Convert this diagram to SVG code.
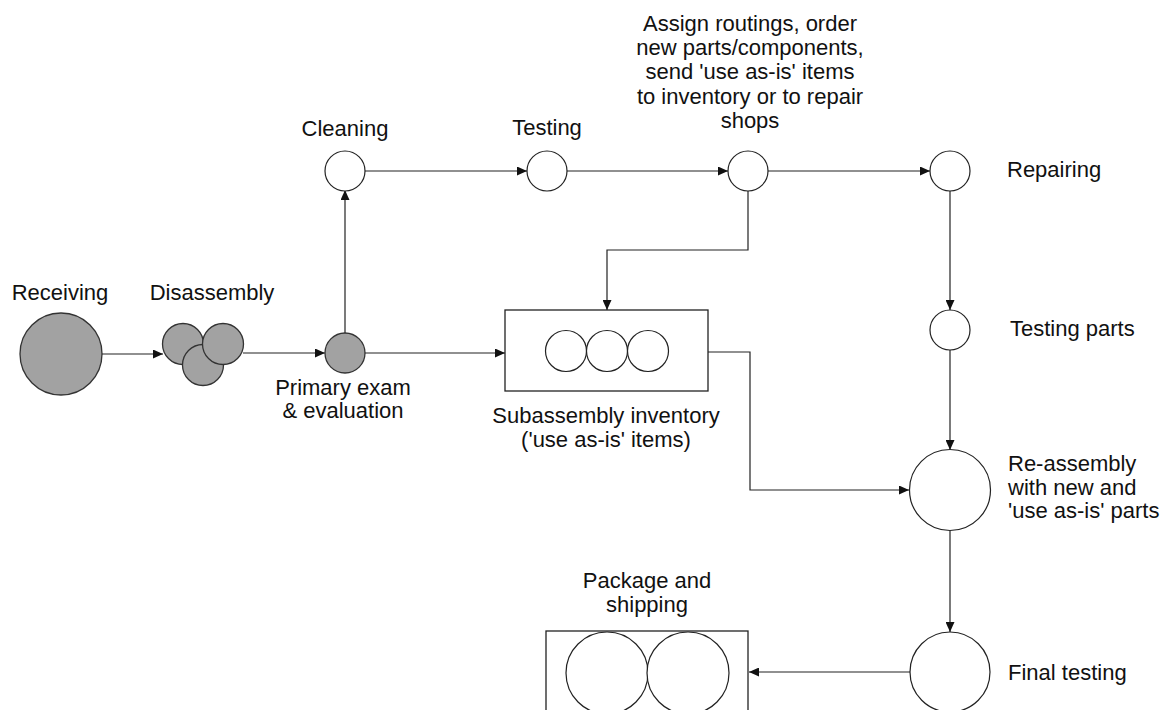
<svg xmlns="http://www.w3.org/2000/svg" width="1165" height="710" viewBox="0 0 1165 710">
<style>
  text { font-family: "Liberation Sans", Arial, sans-serif; font-size: 22px; fill: #111; }
  .c { text-anchor: middle; }
  .open { fill: #fff; stroke: #222; stroke-width: 1.2; }
  .shaded { fill: #a2a2a2; stroke: #333; stroke-width: 1.3; }
  .box { fill: #fff; stroke: #222; stroke-width: 1.3; }
  .conn { fill: none; stroke: #222; stroke-width: 1.2; }
</style>
<defs>
  <marker id="arr" markerUnits="userSpaceOnUse" markerWidth="11" markerHeight="9" refX="10" refY="4.5" orient="auto">
    <path d="M0,0 L10,4.5 L0,9 z" fill="#111"/>
  </marker>
</defs>
<rect width="1165" height="710" fill="#fff"/>

<g id="connectors">
  <path class="conn" d="M102,354 L163,354" marker-end="url(#arr)"/>
  <path class="conn" d="M243,353 L325,353" marker-end="url(#arr)"/>
  <path class="conn" d="M345,333 L345,190" marker-end="url(#arr)"/>
  <path class="conn" d="M365,171 L527,171" marker-end="url(#arr)"/>
  <path class="conn" d="M567,171 L728,171" marker-end="url(#arr)"/>
  <path class="conn" d="M768,171 L930,171" marker-end="url(#arr)"/>
  <path class="conn" d="M748,190 L748,250 L607,250 L607,310" marker-end="url(#arr)"/>
  <path class="conn" d="M365,353 L505,353" marker-end="url(#arr)"/>
  <path class="conn" d="M708,352 L750,352 L750,490 L909,490" marker-end="url(#arr)"/>
  <path class="conn" d="M950,190 L950,310" marker-end="url(#arr)"/>
  <path class="conn" d="M950,350 L950,450" marker-end="url(#arr)"/>
  <path class="conn" d="M950,531 L950,632" marker-end="url(#arr)"/>
  <path class="conn" d="M910,672 L749,672" marker-end="url(#arr)"/>
</g>

<g id="receiving">
  <circle class="shaded" cx="61" cy="354" r="41"/>
  <text class="c" x="60" y="300">Receiving</text>
</g>

<g id="disassembly">
  <circle class="shaded" cx="183" cy="344" r="20.5"/>
  <circle class="shaded" cx="203" cy="365" r="20.5"/>
  <circle class="shaded" cx="223" cy="344" r="20.5"/>
  <text class="c" x="212" y="300">Disassembly</text>
</g>

<g id="primary-exam">
  <circle class="shaded" cx="345" cy="353" r="20"/>
  <text class="c" x="343" y="395">Primary exam</text>
  <text class="c" x="343" y="418">&amp; evaluation</text>
</g>

<g id="cleaning">
  <circle class="open" cx="345" cy="171" r="20"/>
  <text class="c" x="345" y="136">Cleaning</text>
</g>

<g id="testing">
  <circle class="open" cx="547" cy="171" r="20"/>
  <text class="c" x="547" y="135">Testing</text>
</g>

<g id="assign-routings">
  <circle class="open" cx="748" cy="171" r="20"/>
  <text class="c" x="750" y="31">Assign routings, order</text>
  <text class="c" x="750" y="55">new parts/components,</text>
  <text class="c" x="750" y="79">send 'use as-is' items</text>
  <text class="c" x="750" y="104">to inventory or to repair</text>
  <text class="c" x="750" y="128">shops</text>
</g>

<g id="repairing">
  <circle class="open" cx="950" cy="171" r="20"/>
  <text x="1007" y="177">Repairing</text>
</g>

<g id="testing-parts">
  <circle class="open" cx="950" cy="330" r="20"/>
  <text x="1010" y="336">Testing parts</text>
</g>

<g id="subassembly-inventory">
  <rect class="box" x="505" y="310" width="203" height="81"/>
  <circle class="open" cx="566" cy="351" r="20.5"/>
  <circle class="open" cx="607" cy="351" r="20.5"/>
  <circle class="open" cx="648" cy="351" r="20.5"/>
  <text class="c" x="606" y="423">Subassembly inventory</text>
  <text class="c" x="606" y="447">('use as-is' items)</text>
</g>

<g id="re-assembly">
  <circle class="open" cx="950" cy="490" r="40.5"/>
  <text x="1008" y="471">Re-assembly</text>
  <text x="1008" y="495">with new and</text>
  <text x="1008" y="518">'use as-is' parts</text>
</g>

<g id="final-testing">
  <circle class="open" cx="950" cy="672" r="40"/>
  <text x="1008" y="680">Final testing</text>
</g>

<g id="package-shipping">
  <rect class="box" x="546" y="631" width="202" height="90"/>
  <circle class="open" cx="607" cy="673" r="41"/>
  <circle class="open" cx="688" cy="673" r="41"/>
  <text class="c" x="647" y="588">Package and</text>
  <text class="c" x="647" y="612">shipping</text>
</g>
</svg>
